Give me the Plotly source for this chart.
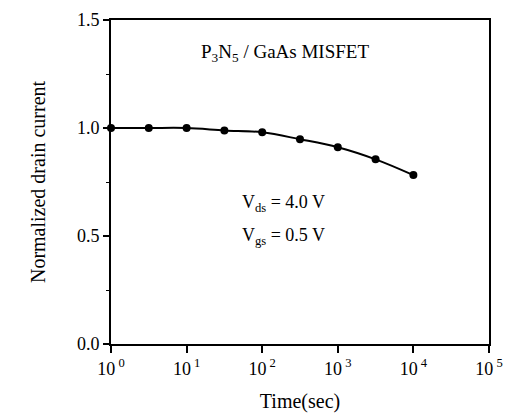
import plotly.graph_objects as go

time_sec = [1, 3.16, 10, 31.6, 100, 316, 1000, 3160, 10000]
norm_current = [1.0, 1.0, 1.0, 0.989, 0.98, 0.948, 0.911, 0.855, 0.782]
x_tickvals = [1, 10, 100, 1000, 10000, 100000]
x_ticktext = ["10<sup> 0</sup>", "10<sup> 1</sup>", "10<sup> 2</sup>",
              "10<sup> 3</sup>", "10<sup> 4</sup>", "10<sup> 5</sup>"]
y_tickvals = [0, 0.5, 1.0, 1.5]
y_ticktext = ["0.0", "0.5", "1.0", "1.5"]

font_family = "Liberation Serif, Times New Roman, serif"

fig = go.Figure()
fig.add_trace(go.Scatter(
    x=time_sec, y=norm_current, mode="lines+markers",
    line=dict(color="black", width=2, shape="spline"),
    marker=dict(color="black", size=8),
    cliponaxis=False, showlegend=False,
))

fig.add_annotation(x=0.46, y=1.345, xref="paper", yref="y",
                   text="P<sub>3</sub>N<sub>5</sub> / GaAs MISFET",
                   showarrow=False, font=dict(family=font_family, size=19, color="black"))
fig.add_annotation(x=0.34, y=0.65, xref="paper", yref="y", xanchor="left",
                   text="V<sub>ds</sub> = 4.0 V",
                   showarrow=False, font=dict(family=font_family, size=18, color="black"))
fig.add_annotation(x=0.34, y=0.5, xref="paper", yref="y", xanchor="left",
                   text="V<sub>gs</sub> = 0.5 V",
                   showarrow=False, font=dict(family=font_family, size=18, color="black"))

fig.update_layout(
    width=515, height=420,
    margin=dict(l=103, r=34, t=12, b=84),
    paper_bgcolor="white", plot_bgcolor="white",
    font=dict(family=font_family, size=16, color="black"),
    xaxis=dict(type="log", range=[0, 5], tickvals=x_tickvals, ticktext=x_ticktext,
               ticks="outside", ticklen=7, tickwidth=2, tickcolor="black",
               showline=True, linewidth=2, linecolor="black", mirror=True,
               showgrid=False, zeroline=False, automargin=False,
               title=dict(text="Time(sec)", font=dict(size=20), standoff=16),
               tickfont=dict(size=18)),
    yaxis=dict(range=[0, 1.5], tickvals=y_tickvals, ticktext=y_ticktext,
               ticks="outside", ticklen=6, tickwidth=2, tickcolor="black",
               minor=dict(tickvals=[0.25, 0.75, 1.25], ticks="outside", ticklen=3,
                          tickwidth=1, tickcolor="black"),
               showline=True, linewidth=2, linecolor="black", mirror=True,
               showgrid=False, zeroline=False, automargin=False,
               title=dict(text="Normalized drain current", font=dict(size=20), standoff=26),
               tickfont=dict(size=18)),
)

fig.write_html("out.html")
